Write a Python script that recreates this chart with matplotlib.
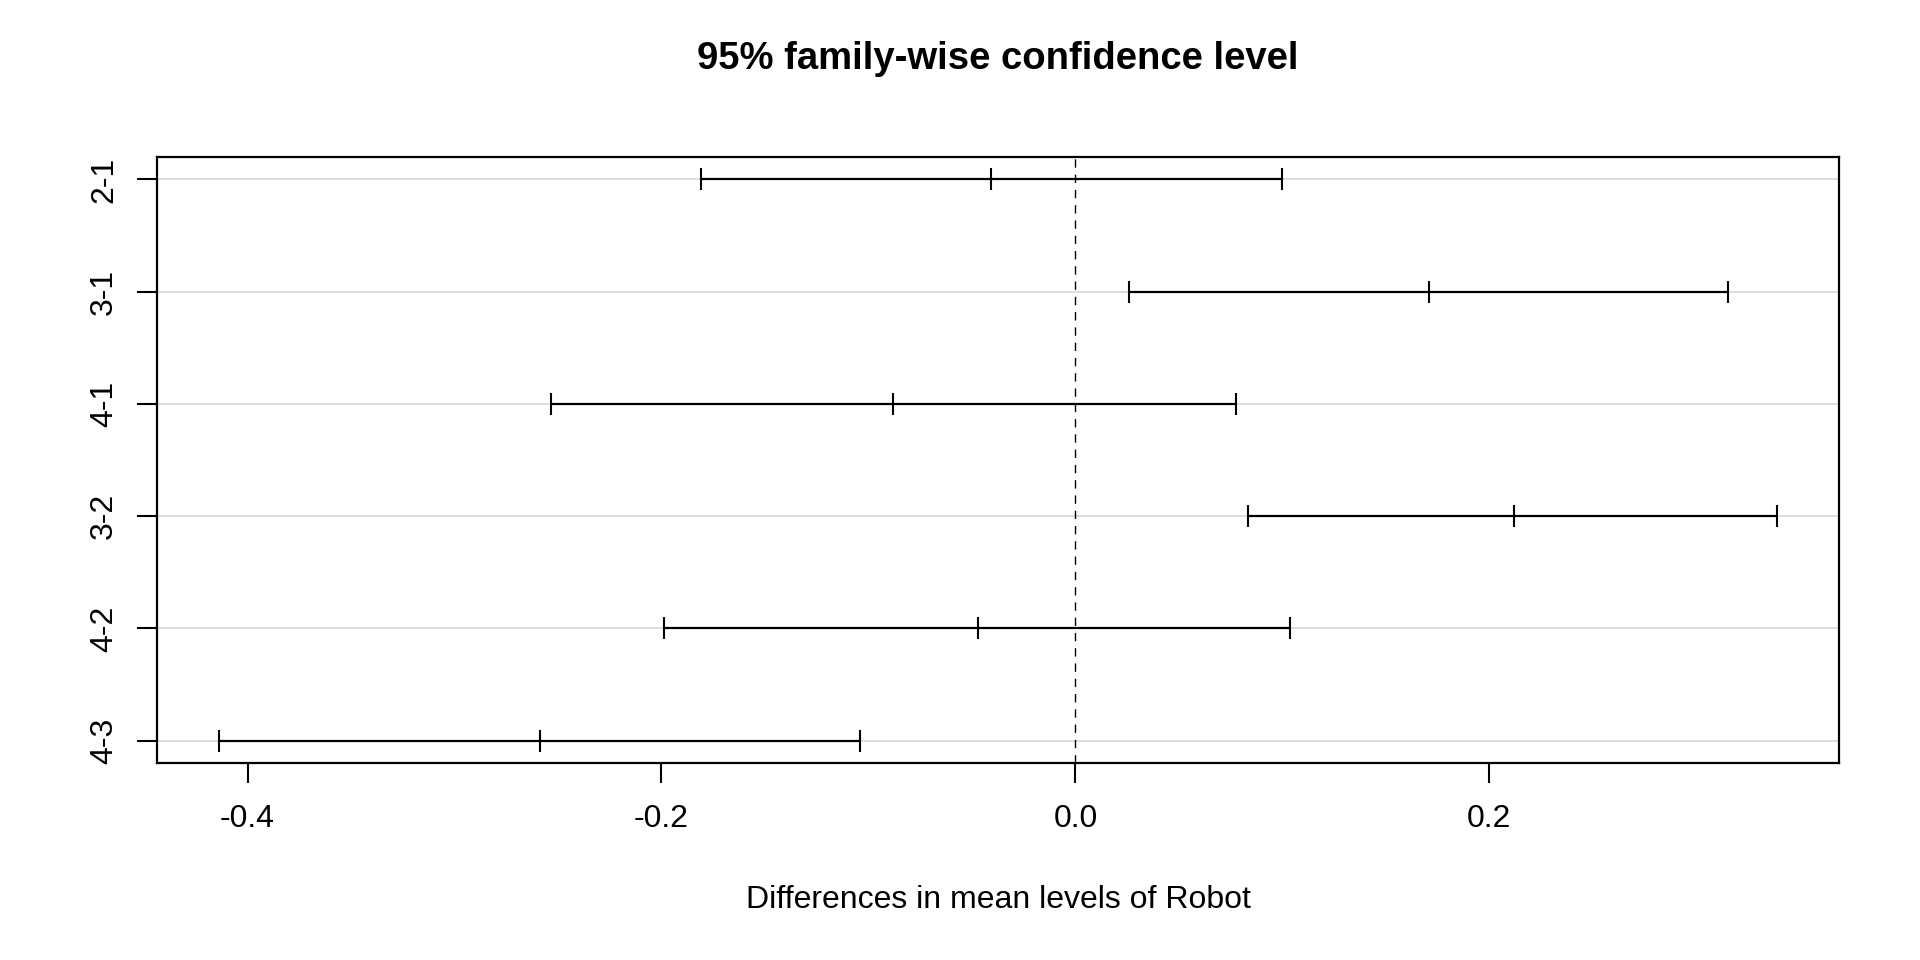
import matplotlib.pyplot as plt

# Tukey HSD intervals for Robot
comparisons = ["2-1", "3-1", "4-1", "3-2", "4-2", "4-3"]
diff = [-0.0408, 0.1710, -0.0882, 0.2118, -0.0473, -0.2586]
lwr = [-0.1811, 0.0260, -0.2533, 0.0834, -0.1988, -0.4136]
upr = [0.1000, 0.3154, 0.0775, 0.3390, 0.1036, -0.1041]
xticks = [-0.4, -0.2, 0.0, 0.2]

plt.rcParams["font.family"] = ["Liberation Sans", "DejaVu Sans"]

fig = plt.figure(figsize=(19.2, 9.6), dpi=100)
ax = fig.add_axes([0.0818, 0.205, 0.958 - 0.0818, 0.8365 - 0.205])

n = len(comparisons)
ypos = list(range(n, 0, -1))

for y in ypos:
    ax.axhline(y, color="#d3d3d3", lw=1.1, zorder=1)
ax.axvline(0, color="black", lw=1.0, ls=(0, (6, 5)), zorder=1)

ax.hlines(ypos, lwr, upr, color="black", lw=1.6, zorder=3)
for vals in (lwr, diff, upr):
    ax.plot(vals, ypos, ls="none", marker="|", color="black",
            markersize=16.5, markeredgewidth=1.5, zorder=4)

lo = min(lwr)
hi = max(upr)
ext = 0.04 * (hi - lo)
ax.set_xlim(lo - ext, hi + ext)
ax.set_ylim(1 - 0.04 * (n - 1), n + 0.04 * (n - 1))

ax.set_xticks(xticks)
ax.set_xticklabels([f"{t:.1f}" for t in xticks])
ax.set_yticks(ypos)
ax.set_yticklabels(comparisons, rotation=90, va="center")
ax.tick_params(axis="both", length=14.4, width=1.5, labelsize=23, color="black")
ax.tick_params(axis="x", pad=15)
ax.tick_params(axis="y", pad=13)
for sp in ax.spines.values():
    sp.set_linewidth(1.6)

fig.text(0.5198, 0.9385, "95% family-wise confidence level",
         ha="center", va="center", fontsize=27.5, fontweight="bold")
fig.text(0.5198, 0.0625, "Differences in mean levels of Robot",
         ha="center", va="center", fontsize=23)

fig.savefig("out.png", dpi=100)
plt.close(fig)
